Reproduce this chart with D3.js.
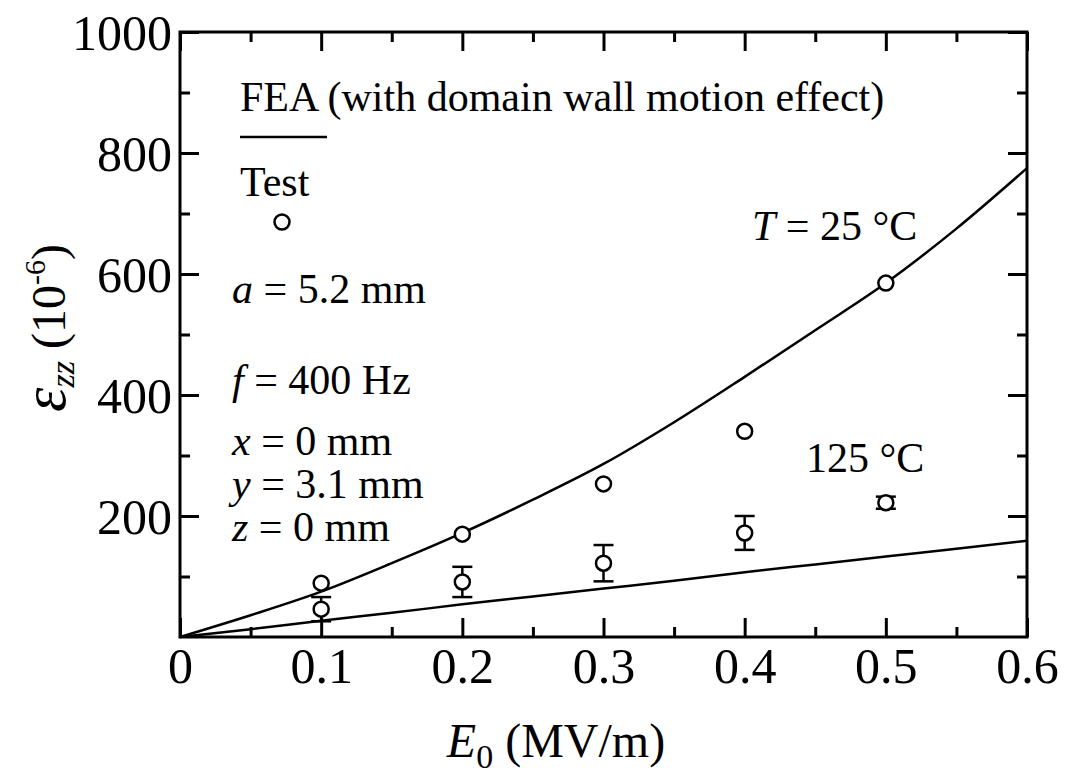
<!DOCTYPE html>
<html>
<head>
<meta charset="utf-8">
<script src="https://cdn.jsdelivr.net/npm/d3@7"></script>
<style>
  body { margin: 0; background: #fff; }
  svg { display: block; }
  text { font-family: "Liberation Serif", "Times New Roman", serif; }
</style>
</head>
<body>
<svg id="chart" width="1066" height="774"></svg>
<script>
// field strength (MV/m) where tests were run
const testE = [0.1, 0.2, 0.3, 0.4, 0.5];
// measured strain at 25 C (10^-6)
const test25 = [89, 170, 253, 340, 585];
// measured strain at 125 C, with error half-widths
const test125 = [46, 91, 122, 172, 222];
const err125 = [20, 25, 30, 28, 10];

// FEA curves (with domain wall motion effect)
const feaE = [0, 0.05, 0.1, 0.15, 0.2, 0.25, 0.3, 0.35, 0.4, 0.45, 0.5, 0.55, 0.6];
const fea25 = [0, 36, 75, 122, 172, 227, 286, 355, 430, 507, 585, 675, 775];
const fea125 = [0, 13, 27, 40, 54, 67, 80, 93, 107, 120, 133, 146, 159];

const xTicks = [0, 0.1, 0.2, 0.3, 0.4, 0.5, 0.6];
const xMinor = [0.05, 0.15, 0.25, 0.35, 0.45, 0.55];
const yTicks = [200, 400, 600, 800, 1000];
const yMinor = [100, 300, 500, 700, 900];

const margin = { top: 32, right: 39, bottom: 137, left: 180 };
const width = 1066 - margin.left - margin.right;
const height = 774 - margin.top - margin.bottom;

const svg = d3.select("#chart");
const g = svg.append("g").attr("transform", `translate(${margin.left},${margin.top})`);

const x = d3.scaleLinear().domain([0, 0.6]).range([0, width]);
const y = d3.scaleLinear().domain([0, 1000]).range([height, 0]);

const fmtX = d => d === 0 ? "0" : d3.format(".1f")(d);

// inward ticks on all four sides
function tickAxis(axis, transform, cls) {
  const a = g.append("g").attr("class", cls).attr("transform", transform).call(axis);
  a.attr("font-family", null).attr("font-size", null);
  a.select(".domain").remove();
  a.selectAll(".tick line").attr("stroke", "#000").attr("stroke-width", 3);
  return a;
}

const xAx = tickAxis(d3.axisBottom(x).tickValues(xTicks).tickSize(-19).tickFormat(fmtX), `translate(0,${height})`, "x-axis");
xAx.selectAll("text").attr("y", 46).attr("dy", 0).attr("font-size", 50).attr("fill", "#000");
tickAxis(d3.axisBottom(x).tickValues(xMinor).tickSize(-10).tickFormat(""), `translate(0,${height})`, "x-minor");
tickAxis(d3.axisTop(x).tickValues(xTicks).tickSize(-19).tickFormat(""), "translate(0,0)", "x-top");
tickAxis(d3.axisTop(x).tickValues(xMinor).tickSize(-10).tickFormat(""), "translate(0,0)", "x-top-minor");

const yAx = tickAxis(d3.axisLeft(y).tickValues(yTicks).tickSize(-19).tickFormat(d3.format("d")), "translate(0,0)", "y-axis");
yAx.selectAll("text").attr("x", -8).attr("dy", "0.34em").attr("font-size", 50).attr("fill", "#000");
tickAxis(d3.axisLeft(y).tickValues(yMinor).tickSize(-10).tickFormat(""), "translate(0,0)", "y-minor");
tickAxis(d3.axisRight(y).tickValues(yTicks).tickSize(-19).tickFormat(""), `translate(${width},0)`, "y-right");
tickAxis(d3.axisRight(y).tickValues(yMinor).tickSize(-10).tickFormat(""), `translate(${width},0)`, "y-right-minor");

// frame
g.append("rect").attr("width", width).attr("height", height)
  .attr("fill", "none").attr("stroke", "#000").attr("stroke-width", 3);

// FEA curves
const line = d3.line().x(d => x(d[0])).y(d => y(d[1])).curve(d3.curveMonotoneX);
[fea25, fea125].forEach(s => {
  g.append("path").datum(feaE.map((e, i) => [e, s[i]]))
    .attr("d", line).attr("fill", "none").attr("stroke", "#000").attr("stroke-width", 2.5);
});

// error bars at 125 C
const eb = g.append("g").attr("stroke", "#000").attr("stroke-width", 2.5);
testE.forEach((e, i) => {
  const cx = x(e), lo = y(test125[i] - err125[i]), hi = y(test125[i] + err125[i]);
  eb.append("line").attr("x1", cx).attr("x2", cx).attr("y1", lo).attr("y2", hi);
  eb.append("line").attr("x1", cx - 10).attr("x2", cx + 10).attr("y1", lo).attr("y2", lo);
  eb.append("line").attr("x1", cx - 10).attr("x2", cx + 10).attr("y1", hi).attr("y2", hi);
});

// test points
const pts = testE.map((e, i) => [e, test25[i]]).concat(testE.map((e, i) => [e, test125[i]]));
g.selectAll("circle.pt").data(pts).enter().append("circle").attr("class", "pt")
  .attr("cx", d => x(d[0])).attr("cy", d => y(d[1])).attr("r", 7.5)
  .attr("fill", "#fff").attr("stroke", "#000").attr("stroke-width", 2.5);

// legend + annotations (page coordinates)
const ann = svg.append("g").attr("font-size", 42).attr("fill", "#000");
ann.append("text").attr("x", 240).attr("y", 111).text("FEA (with domain wall motion effect)");
ann.append("line").attr("x1", 240).attr("x2", 327).attr("y1", 137).attr("y2", 137)
  .attr("stroke", "#000").attr("stroke-width", 2.5);
ann.append("text").attr("x", 240).attr("y", 196).text("Test");
ann.append("circle").attr("cx", 282).attr("cy", 222).attr("r", 7.5)
  .attr("fill", "#fff").attr("stroke", "#000").attr("stroke-width", 2.5);

const params = [
  ["a", " = 5.2 mm", 303],
  ["f", " = 400 Hz", 394],
  ["x", " = 0 mm", 455],
  ["y", " = 3.1 mm", 498],
  ["z", " = 0 mm", 541]
];
params.forEach(p => {
  const t = ann.append("text").attr("x", 232).attr("y", p[2]);
  t.append("tspan").attr("font-style", "italic").text(p[0]);
  t.append("tspan").text(p[1]);
});

const tl = ann.append("text").attr("x", 752).attr("y", 240);
tl.append("tspan").attr("font-style", "italic").text("T");
tl.append("tspan").text(" = 25 \u00B0C");
ann.append("text").attr("x", 806).attr("y", 472).text("125 \u00B0C");

// axis titles
const xt = svg.append("text").attr("x", 556).attr("y", 757).attr("text-anchor", "middle").attr("font-size", 48);
xt.append("tspan").attr("font-style", "italic").text("E");
xt.append("tspan").attr("font-size", 34).attr("dy", 11).text("0");
xt.append("tspan").attr("dy", -11).text(" (MV/m)");

const yt = svg.append("text").attr("transform", "translate(65,328) rotate(-90)")
  .attr("text-anchor", "middle").attr("font-size", 48);
yt.append("tspan").attr("font-style", "italic").attr("font-size", 62).text("\u03B5");
yt.append("tspan").attr("font-style", "italic").attr("font-size", 34).attr("dy", 9).text("zz");
yt.append("tspan").attr("dy", -9).text(" (10");
yt.append("tspan").attr("font-size", 30).attr("dy", -20).text("-6");
yt.append("tspan").attr("dy", 20).text(")");
</script>
</body>
</html>
